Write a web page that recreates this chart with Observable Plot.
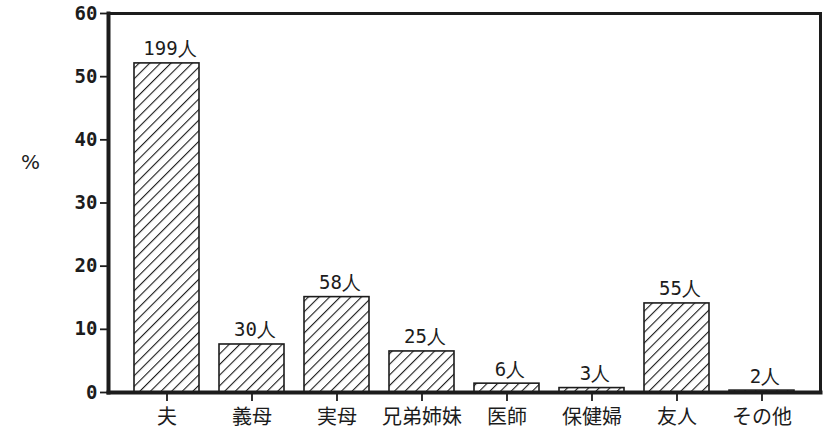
<!DOCTYPE html>
<html>
<head>
<meta charset="utf-8">
<script src="https://cdn.jsdelivr.net/npm/d3@7"></script>
<script src="https://cdn.jsdelivr.net/npm/@observablehq/plot@0.6"></script>
<style>
  body { margin: 0; background: #fff; }
  #chart { position: relative; width: 828px; height: 437px; }
  #pct { position: absolute; left: 21px; top: 150px; font: 20px "DejaVu Sans", sans-serif; color: #222; }
</style>
</head>
<body>
<div id="chart"><div id="pct">%</div></div>
<script>
const categories = ["夫", "義母", "実母", "兄弟姉妹", "医師", "保健婦", "友人", "その他"];
const percents = [52.1, 7.6, 15.1, 6.5, 1.4, 0.7, 14.1, 0.3];
const counts = ["199人", "30人", "58人", "25人", "6人", "3人", "55人", "2人"];
const yTicks = [0, 10, 20, 30, 40, 50, 60];

const data = categories.map((c, i) => ({cat: c, pct: percents[i], label: counts[i]}));

const ink = "#1c1c1c";
const plot = Plot.plot({
  width: 828,
  height: 437,
  marginLeft: 108,
  marginRight: 8,
  marginTop: 13,
  marginBottom: 45,
  style: {background: "transparent", color: ink},
  x: {domain: categories, paddingInner: 0.24, paddingOuter: 0.275, label: null},
  y: {domain: [0, 60], label: null},
  marks: [
    Plot.barY(data, {x: "cat", y: "pct", fill: "url(#hatch)", stroke: ink, strokeWidth: 1.6}),
    Plot.text(data, {x: "cat", y: "pct", text: "label", lineAnchor: "bottom", dy: -8, dx: 3,
      fontSize: 19, fontFamily: "DejaVu Sans Mono, monospace", fill: ink}),
    Plot.axisY({ticks: yTicks, tickFormat: d => String(d), tickSize: 8, tickPadding: 3,
      fontSize: 19, fontWeight: "bold", fontFamily: "DejaVu Sans Mono, monospace", strokeWidth: 1.8}),
    Plot.axisX({tickSize: 9, tickPadding: 8, fontSize: 20,
      fontFamily: "Noto Sans CJK JP, sans-serif", strokeWidth: 1.8}),
    Plot.frame({stroke: ink, strokeWidth: 3}),
    Plot.frame({anchor: "left", stroke: ink, strokeWidth: 4}),
    Plot.frame({anchor: "bottom", stroke: ink, strokeWidth: 4})
  ]
});

const svg = d3.select(plot);
const defs = svg.insert("defs", ":first-child");
const pat = defs.append("pattern")
  .attr("id", "hatch")
  .attr("patternUnits", "userSpaceOnUse")
  .attr("width", 7.5).attr("height", 7.5)
  .attr("patternTransform", "rotate(45)");
pat.append("rect").attr("width", 7.5).attr("height", 7.5).attr("fill", "#fff");
pat.append("line").attr("x1", 0).attr("y1", 0).attr("x2", 0).attr("y2", 7.5)
  .attr("stroke", ink).attr("stroke-width", 2.2);

document.getElementById("chart").appendChild(plot);
</script>
</body>
</html>
